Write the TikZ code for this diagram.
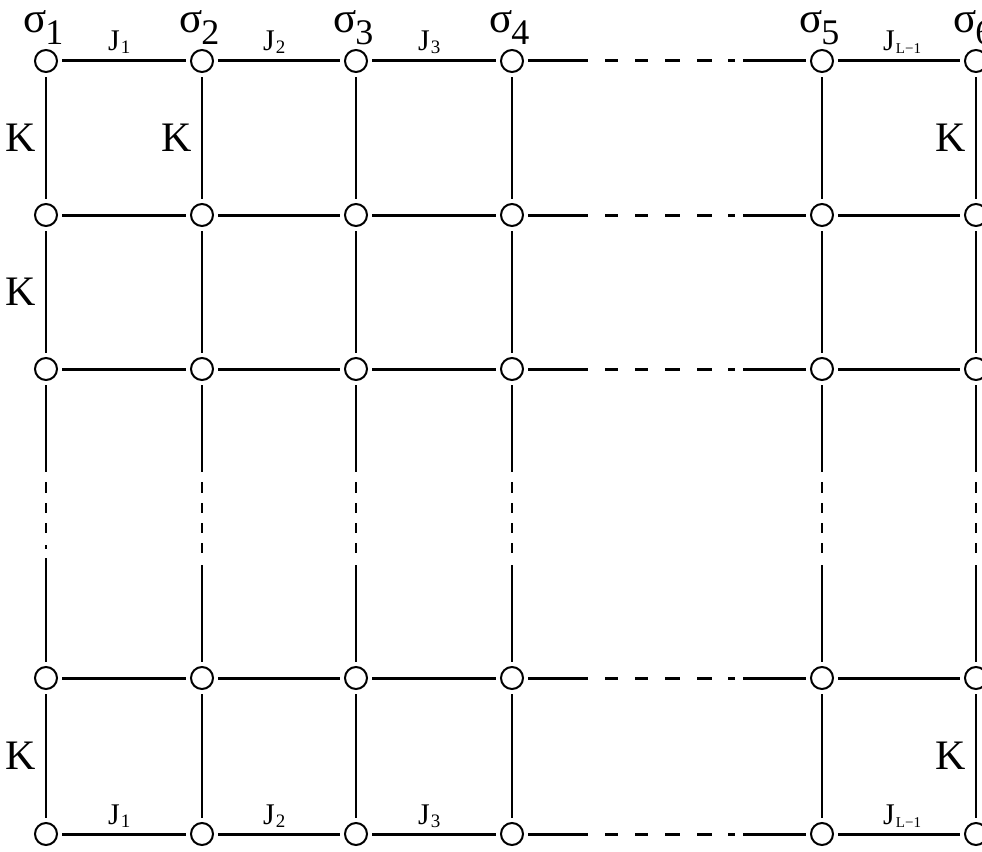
\documentclass[tikz,border=0pt]{standalone}
\usepackage{fontspec}
\setmainfont{Liberation Serif}
\usetikzlibrary{calc}

\newcommand{\spinlab}[1]{σ\kern-1pt\raisebox{-12pt}{\fontsize{36}{36}\selectfont #1}}
\newcommand{\coup}[1]{J\kern1pt\raisebox{-3pt}{\fontsize{19}{19}\selectfont #1}}

\begin{document}
\begin{tikzpicture}[x=1pt, y=-1pt,
  site/.style={circle, draw, line width=2pt, minimum size=22pt, inner sep=0pt, outer sep=5pt, fill=white},
  hbond/.style={line width=3pt},
  vbond/.style={line width=2pt},
  hgap/.style={dash pattern=on 60pt off 17pt on 13pt off 17pt on 13pt off 17pt on 15pt off 17pt on 15pt off 16pt on 7pt off 8pt on 300pt},
  vgap/.style={dash pattern=on 87pt off 10pt on 11pt off 10pt on 10pt off 10pt on 10pt off 10pt on 10pt off 12pt on 300pt},
  vgapdot/.style={dash pattern=on 87pt off 10pt on 11pt off 10pt on 10pt off 10pt on 10pt off 12pt on 4pt off 9pt on 300pt},
  spin/.style={anchor=base west, inner sep=0pt, font=\fontsize{43}{43}\selectfont},
  coupling/.style={anchor=base west, inner sep=0pt, yshift=10pt, xshift=-16pt, font=\fontsize{30}{30}\selectfont},
  field/.style={anchor=east, inner sep=0pt, xshift=-10pt, font=\fontsize{42}{42}\selectfont}]
  \useasboundingbox (0,0) rectangle (982,851);

  \foreach \x [count=\i] in {46,202,356,512,822,976}
    \foreach \y [count=\j] in {61,215,369,678,834}
      \node[site] (n\j\i) at (\x,\y) {};

  \foreach \j in {1,...,5}{
    \draw[hbond] (n\j1) -- (n\j2) -- (n\j3) -- (n\j4);
    \draw[hbond, hgap] (n\j4) -- (n\j5);
    \draw[hbond] (n\j5) -- (n\j6);
  }
  \foreach \i in {1,...,6}{
    \draw[vbond] (n1\i) -- (n2\i) -- (n3\i);
    \draw[vbond] (n4\i) -- (n5\i);
  }
  \draw[vbond, vgapdot] (n31) -- (n41);
  \foreach \i in {2,...,6}
    \draw[vbond, vgap] (n3\i) -- (n4\i);

  \foreach \i in {1,...,6}
    \node[spin] (sig\i) at ($(n1\i)+(-23,-28)$) {\spinlab{\i}};

  \path (n11) -- node[coupling] (jt1) {\coup{1}} (n12);
  \path (n12) -- node[coupling] (jt2) {\coup{2}} (n13);
  \path (n13) -- node[coupling] (jt3) {\coup{3}} (n14);
  \path (n15) -- node[coupling] (jt4) {\coup{\fontsize{15}{15}\selectfont L−1}} (n16);
  \path (n51) -- node[coupling] (jb1) {\coup{1}} (n52);
  \path (n52) -- node[coupling] (jb2) {\coup{2}} (n53);
  \path (n53) -- node[coupling] (jb3) {\coup{3}} (n54);
  \path (n55) -- node[coupling] (jb4) {\coup{\fontsize{15}{15}\selectfont L−1}} (n56);

  \path (n11) -- node[field] (k1) {K} (n21);
  \path (n12) -- node[field] (k2) {K} (n22);
  \path (n16) -- node[field] (k3) {K} (n26);
  \path (n21) -- node[field] (k4) {K} (n31);
  \path (n41) -- node[field] (k5) {K} (n51);
  \path (n46) -- node[field] (k6) {K} (n56);
\end{tikzpicture}
\end{document}
